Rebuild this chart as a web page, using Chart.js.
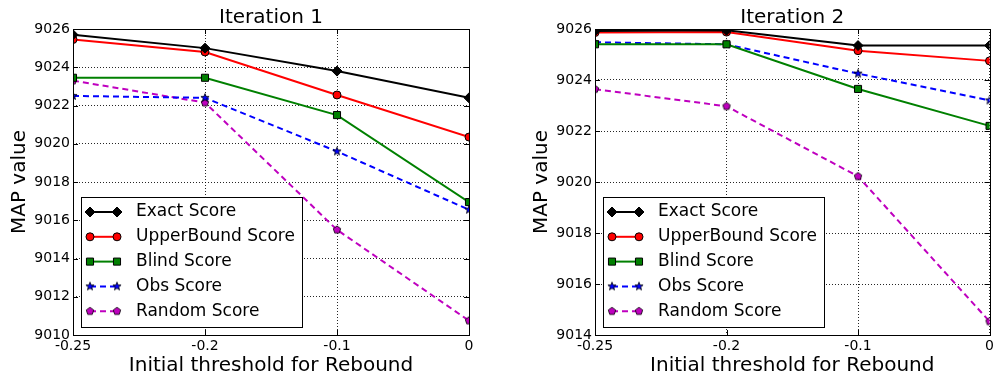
<!DOCTYPE html>
<html>
<head>
<meta charset="utf-8">
<title>MAP value vs initial threshold</title>
<script src="https://cdn.jsdelivr.net/npm/chart.js@4.4.1/dist/chart.umd.min.js"></script>
<style>
  body { margin: 0; background: #fff; }
  .wrap { position: relative; width: 997px; height: 379px; }
  canvas { position: absolute; top: 0; }
  #iter1 { left: 0; }
  #iter2 { left: 522px; }
</style>
</head>
<body>
<div class="wrap">
  <canvas id="iter1" width="490" height="379"></canvas>
  <canvas id="iter2" width="475" height="379"></canvas>
</div>
<script>
// x positions (evenly spaced, so a category axis)
const thresholds = ['-0.25', '-0.2', '-0.1', '0'];
const seriesNames = ['Exact Score', 'UpperBound Score', 'Blind Score', 'Obs Score', 'Random Score'];

// Iteration 1
const exact1  = [9025.7, 9025.0, 9023.8, 9022.4];
const upper1  = [9025.45, 9024.8, 9022.55, 9020.35];
const blind1  = [9023.45, 9023.45, 9021.5, 9016.95];
const obs1    = [9022.5, 9022.4, 9019.6, 9016.55];
const random1 = [9023.3, 9022.15, 9015.5, 9010.75];

// Iteration 2
const exact2  = [9025.92, 9025.95, 9025.35, 9025.35];
const upper2  = [9025.86, 9025.88, 9025.15, 9024.75];
const blind2  = [9025.4, 9025.4, 9023.65, 9022.2];
const obs2    = [9025.48, 9025.4, 9024.25, 9023.2];
const random2 = [9023.64, 9022.97, 9020.22, 9014.53];

Chart.defaults.font.family = '"DejaVu Sans", sans-serif';
Chart.defaults.color = '#000';

// filled polygon / star markers drawn once onto small canvases
function markerCanvas(points, outer, inner, fill) {
  const size = 12;
  const c = document.createElement('canvas');
  c.width = c.height = size;
  const g = c.getContext('2d');
  const n = inner ? points * 2 : points;
  g.beginPath();
  for (let i = 0; i < n; i++) {
    const r = inner && i % 2 ? inner : outer;
    const ang = -Math.PI / 2 + i * 2 * Math.PI / n;
    const px = size / 2 + r * Math.cos(ang);
    const py = size / 2 + r * Math.sin(ang);
    i ? g.lineTo(px, py) : g.moveTo(px, py);
  }
  g.closePath();
  g.fillStyle = fill;
  g.fill();
  g.lineWidth = 0.8;
  g.strokeStyle = '#000';
  g.stroke();
  return c;
}
const starMarker = markerCanvas(5, 4.3, 1.8, '#0000ff');
const pentagonMarker = markerCanvas(5, 3.9, 0, '#bf00bf');

const styles = [
  { color: '#000000', dash: [], pointStyle: 'rectRot', radius: 5, fill: '#000000' },
  { color: '#ff0000', dash: [], pointStyle: 'circle', radius: 4, fill: '#ff0000' },
  { color: '#008000', dash: [], pointStyle: 'rect', radius: 5, fill: '#008000' },
  { color: '#0000ff', dash: [6, 4], pointStyle: starMarker, radius: 5, fill: '#0000ff' },
  { color: '#bf00bf', dash: [6, 4], pointStyle: pentagonMarker, radius: 4.5, fill: '#bf00bf' }
];

function buildDatasets(series) {
  return series.map((values, i) => ({
    label: seriesNames[i],
    data: values,
    borderColor: styles[i].color,
    borderWidth: 2,
    borderDash: styles[i].dash,
    pointStyle: styles[i].pointStyle,
    pointRadius: styles[i].radius,
    pointBackgroundColor: styles[i].fill,
    pointBorderColor: '#000',
    pointBorderWidth: 1,
    tension: 0,
    clip: 0
  }));
}

// axes frame with inward tick marks on all four sides
const framePlugin = {
  id: 'frame',
  afterDatasetsDraw(chart) {
    const { ctx, chartArea: a, scales: { x, y } } = chart;
    ctx.save();
    ctx.strokeStyle = '#000';
    ctx.lineWidth = 1;
    ctx.beginPath();
    x.ticks.forEach((t, i) => {
      const px = Math.round(x.getPixelForTick(i)) + 0.5;
      ctx.moveTo(px, a.top); ctx.lineTo(px, a.top + 5);
      ctx.moveTo(px, a.bottom); ctx.lineTo(px, a.bottom - 5);
    });
    y.ticks.forEach((t, i) => {
      const py = Math.round(y.getPixelForTick(i)) + 0.5;
      ctx.moveTo(a.left, py); ctx.lineTo(a.left + 5, py);
      ctx.moveTo(a.right, py); ctx.lineTo(a.right - 5, py);
    });
    ctx.stroke();
    ctx.strokeRect(Math.round(a.left) + 0.5, Math.round(a.top) + 0.5,
      Math.round(a.width), Math.round(a.height));
    ctx.restore();
  }
};

// boxed legend in the lower-left corner of the plot
const insideLegend = {
  id: 'insideLegend',
  afterDraw(chart) {
    const { ctx, chartArea: a } = chart;
    const bw = 221, bh = 130;
    const bx = Math.round(a.left) + 8;
    const by = Math.round(a.bottom) - 8 - bh;
    ctx.save();
    ctx.fillStyle = '#fff';
    ctx.fillRect(bx, by, bw, bh);
    ctx.strokeStyle = '#000';
    ctx.lineWidth = 1;
    ctx.strokeRect(bx + 0.5, by + 0.5, bw, bh);
    ctx.font = '17px "DejaVu Sans"';
    ctx.textBaseline = 'middle';
    chart.data.datasets.forEach((ds, i) => {
      const cy = by + 15 + i * 24.8;
      const x1 = bx + 9, x2 = bx + 36;
      ctx.save();
      ctx.strokeStyle = ds.borderColor;
      ctx.lineWidth = ds.borderWidth;
      ctx.setLineDash(ds.borderDash);
      ctx.beginPath();
      ctx.moveTo(x1, cy);
      ctx.lineTo(x2, cy);
      ctx.stroke();
      ctx.restore();
      [x1, x2].forEach(px => {
        ctx.save();
        ctx.fillStyle = ds.pointBackgroundColor;
        ctx.strokeStyle = ds.pointBorderColor;
        ctx.lineWidth = ds.pointBorderWidth;
        Chart.helpers.drawPoint(ctx, {
          pointStyle: ds.pointStyle, radius: ds.pointRadius, rotation: 0, borderWidth: ds.pointBorderWidth
        }, px, cy);
        ctx.restore();
      });
      ctx.fillStyle = '#000';
      ctx.fillText(ds.label, bx + 55, cy);
    });
    ctx.restore();
  }
};

function makeChart(id, title, series, yMin, yMax, padRight) {
  return new Chart(document.getElementById(id), {
    type: 'line',
    data: { labels: thresholds, datasets: buildDatasets(series) },
    plugins: [framePlugin, insideLegend],
    options: {
      responsive: false,
      animation: false,
      events: [],
      layout: { padding: { left: 0, right: padRight, top: 0, bottom: 0 } },
      plugins: {
        legend: { display: false },
        tooltip: { enabled: false },
        title: {
          display: true,
          text: title,
          fullSize: false,
          color: '#000',
          font: { size: 20, weight: 'normal', lineHeight: 1.1 },
          padding: { top: 7, bottom: 0 }
        }
      },
      scales: {
        x: {
          type: 'category',
          offset: false,
          grid: { color: 'rgba(0,0,0,0.85)', lineWidth: 1, drawTicks: false },
          border: { display: false, dash: [1, 2] },
          ticks: { padding: 3, maxRotation: 0, autoSkip: false, font: { size: 14 }, color: '#000' },
          title: {
            display: true,
            text: 'Initial threshold for Rebound',
            color: '#000',
            font: { size: 20 },
            padding: { top: 0, bottom: 1 }
          },
          afterFit: s => { s.height = 44; }
        },
        y: {
          type: 'linear',
          min: yMin,
          max: yMax,
          grid: { color: 'rgba(0,0,0,0.85)', lineWidth: 1, drawTicks: false },
          border: { display: false, dash: [1, 2] },
          ticks: {
            stepSize: 2,
            padding: 3,
            font: { size: 14 },
            color: '#000',
            callback: v => String(v)
          },
          title: {
            display: true,
            text: 'MAP value',
            color: '#000',
            font: { size: 20 },
            padding: { top: 8, bottom: 0 }
          },
          afterFit: s => { s.width = 73; }
        }
      }
    }
  });
}

makeChart('iter1', 'Iteration 1', [exact1, upper1, blind1, obs1, random1], 9010, 9026, 21);
makeChart('iter2', 'Iteration 2', [exact2, upper2, blind2, obs2, random2], 9014, 9026, 6);
</script>
</body>
</html>
